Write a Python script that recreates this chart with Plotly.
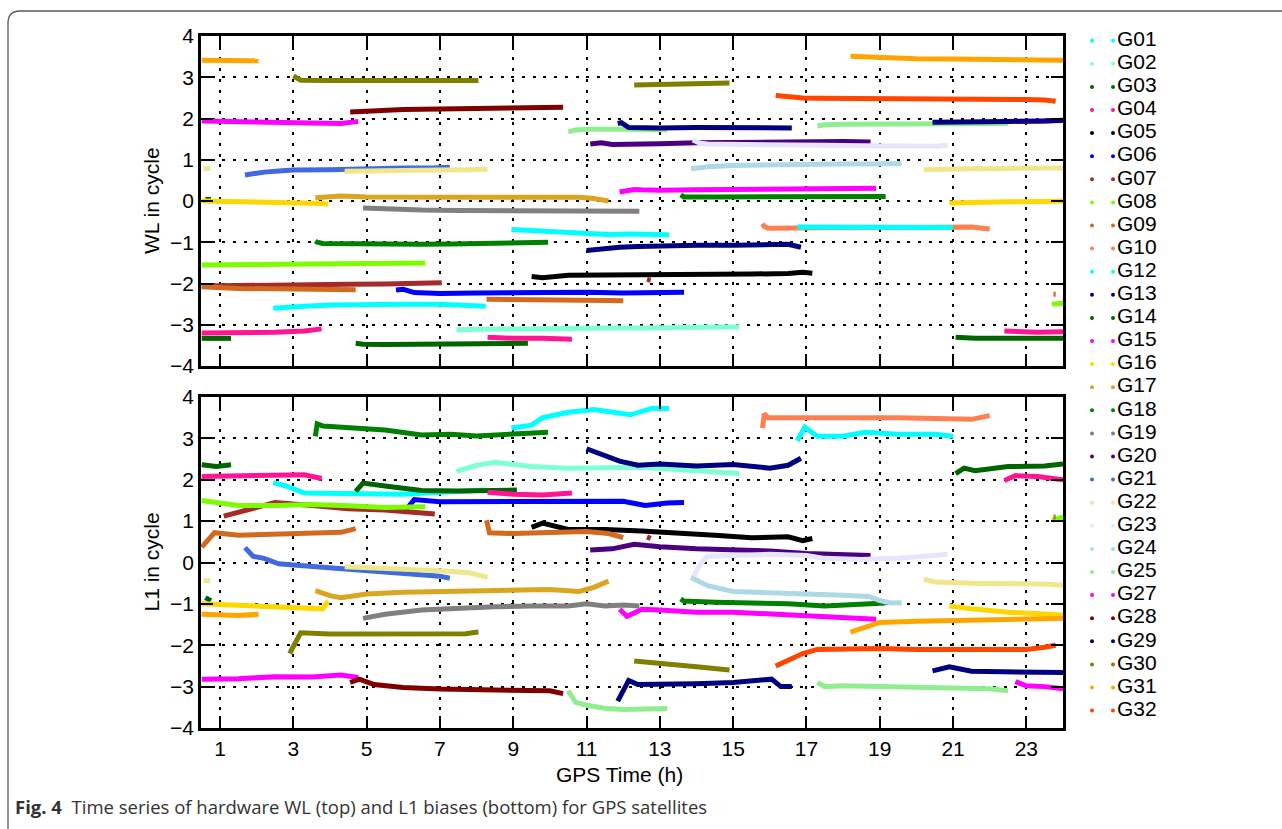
import plotly.graph_objects as go

# ---------------------------------------------------------------------------
# Satellites, colours and per-satellite time series (GPS time in hours).
# Each satellite has one time axis shared by its WL (top) and L1 (bottom)
# bias series; None breaks a track between passes.
# ---------------------------------------------------------------------------
SATS = ["G01", "G02", "G03", "G04", "G05", "G06", "G07", "G08", "G09", "G10",
        "G12", "G13", "G14", "G15", "G16", "G17", "G18", "G19", "G20", "G21",
        "G22", "G23", "G24", "G25", "G27", "G28", "G29", "G30", "G31", "G32"]

COLORS = ["#00FFFF", "#7FFFD4", "#006400", "#FF1493", "#000000", "#0000FF",
          "#A52A2A", "#7CFC00", "#D2691E", "#FF7F50", "#00FFFF", "#000080",
          "#006400", "#FF00FF", "#FFD700", "#DAA520", "#008000", "#808080",
          "#4B0082", "#4169E1", "#F0E68C", "#E6E6FA", "#ADD8E6", "#90EE90",
          "#FF00FF", "#800000", "#000080", "#808000", "#FFA500", "#FF4500"]

X_TICKS = [1, 3, 5, 7, 9, 11, 13, 15, 17, 19, 21, 23]
Y_TICKS = [-4, -3, -2, -1, 0, 1, 2, 3, 4]

G01_T = [2.45, 2.8, 3.3, 4.0, 5.0, 6.0, 7.0, 8.0, 8.25]
G01_WL = [-2.6, -2.57, -2.55, -2.52, -2.5, -2.5, -2.5, -2.52, -2.55]
G01_L1 = [1.93, 1.85, 1.68, 1.68, 1.65, 1.65, 1.7, 1.72, 1.75]

G02_T = [7.45, 8.0, 8.5, 9.5, 10.5, 11.5, 12.5, 13.5, 14.5, 15.16]
G02_WL = [-3.12, -3.1, -3.1, -3.1, -3.08, -3.08, -3.08, -3.08, -3.08, -3.05]
G02_L1 = [2.2, 2.35, 2.42, 2.32, 2.28, 2.3, 2.3, 2.25, 2.2, 2.15]

G03_T = [0.6, 0.75, None, 4.7, 4.9, 5.5, 6.5, 7.5, 8.5, 9.1, 9.4]
G03_WL = [0.04, 0.04, None, -3.45, -3.47, -3.48, -3.48, -3.48, -3.47, -3.46, -3.45]
G03_L1 = [-0.85, -0.93, None, 1.72, 1.92, 1.85, 1.74, 1.73, 1.76, 1.75, None]

G04_T = [0.5, 1.5, 2.5, 3.3, 3.77, None, 8.3, 9.0, 9.8, 10.6, None, 22.4, 22.7, 23.3, 24.0]
G04_WL = [-3.2, -3.2, -3.18, -3.15, -3.1, None, -3.3, -3.33, -3.33, -3.35, None, -3.15, -3.17, -3.18, -3.17]
G04_L1 = [2.08, 2.1, 2.12, 2.12, 2.03, None, 1.7, 1.65, 1.63, 1.68, None, 1.98, 2.1, 2.08, 2.0]

G05_T = [9.5, 9.8, 10.5, 11.5, 12.5, 13.5, 14.5, 15.5, 16.5, 16.9, 17.16]
G05_WL = [-1.83, -1.86, -1.8, -1.8, -1.8, -1.79, -1.78, -1.77, -1.76, -1.73, -1.75]
G05_L1 = [0.85, 0.95, 0.8, 0.8, 0.76, 0.72, 0.66, 0.6, 0.62, 0.53, 0.58]

G06_T = [5.8, 6.0, 6.3, 7.0, 8.0, 9.0, 10.0, 11.0, 12.0, 12.6, 13.2, 13.66]
G06_WL = [-2.16, -2.14, -2.22, -2.24, -2.23, -2.22, -2.21, -2.21, -2.23, -2.22, -2.21, -2.21]
G06_L1 = [None, 1.2, 1.52, 1.47, 1.47, 1.47, 1.47, 1.5, 1.48, 1.38, 1.44, 1.45]

G07_T = [0.5, 1.1, 1.5, 2.5, 3.5, 4.5, 5.5, 6.5, 6.86, 7.05, None, 12.65, 12.75]
G07_WL = [-2.06, -2.05, -2.05, -2.04, -2.03, -2.02, -2.01, -2.0, -1.98, -1.98, None, -1.9, -1.92]
G07_L1 = [None, 1.12, 1.22, 1.45, 1.38, 1.3, 1.27, 1.2, 1.17, None, None, 0.62, 0.58]

G08_T = [0.5, 1.5, 2.5, 3.5, 4.5, 5.5, 6.6, None, 23.7, 24.0]
G08_WL = [-1.55, -1.54, -1.53, -1.52, -1.52, -1.51, -1.5, None, -2.5, -2.48]
G08_L1 = [1.5, 1.38, 1.38, 1.4, 1.37, 1.33, 1.35, None, 1.02, 1.1]

G09_T = [0.5, 0.85, 1.5, 2.5, 3.5, 4.3, 4.7, None, 8.27, 8.35, 9.0, 10.0, 11.0, 11.6, 12.0, None, 23.74, 23.8]
G09_WL = [-2.08, -2.1, -2.12, -2.13, -2.14, -2.14, -2.15, None, -2.38, -2.38, -2.39, -2.39, -2.4, -2.41, -2.42, None, -2.26, -2.26]
G09_L1 = [0.37, 0.72, 0.66, 0.68, 0.7, 0.73, 0.82, None, 1.02, 0.72, 0.7, 0.72, 0.75, 0.7, 0.6, None, 1.1, 1.1]

G10_T = [15.8, 15.85, 15.95, 16.5, 17.5, 18.5, 19.5, 20.5, 21.5, 22.0]
G10_WL = [-0.55, -0.62, -0.66, -0.65, -0.65, -0.65, -0.65, -0.64, -0.63, -0.68]
G10_L1 = [3.25, 3.6, 3.5, 3.5, 3.52, 3.52, 3.5, 3.48, 3.46, 3.55]

G12_T = [8.95, 9.5, 9.8, 10.5, 11.2, 11.6, 12.2, 12.8, 13.25, None, 16.75, 16.95, 17.3, 18.0, 18.6, 19.5, 20.5, 21.0]
G12_WL = [-0.69, -0.72, -0.74, -0.76, -0.79, -0.81, -0.8, -0.8, -0.82, None, -0.63, -0.63, -0.63, -0.63, -0.62, -0.63, -0.63, -0.64]
G12_L1 = [3.25, 3.32, 3.5, 3.63, 3.7, 3.65, 3.57, 3.73, 3.72, None, 2.94, 3.27, 3.05, 3.05, 3.15, 3.1, 3.1, 3.05]

G13_T = [11.0, 11.5, 11.9, 12.4, 13.0, 14.0, 15.0, 16.0, 16.5, 16.85]
G13_WL = [-1.2, -1.15, -1.12, -1.1, -1.08, -1.07, -1.07, -1.06, -1.05, -1.12]
G13_L1 = [2.75, 2.6, 2.45, 2.35, 2.38, 2.33, 2.37, 2.28, 2.35, 2.52]

G14_T = [0.5, 0.9, 1.3, None, 21.07, 21.3, 21.6, 22.5, 23.5, 24.0]
G14_WL = [-3.33, -3.33, -3.33, None, -3.3, -3.32, -3.33, -3.33, -3.33, -3.33]
G14_L1 = [2.36, 2.32, 2.36, None, 2.15, 2.28, 2.22, 2.32, 2.33, 2.38]

G15_T = [0.5, 1.5, 2.5, 3.5, 4.3, 4.77, None, 11.9, 12.1, 12.3, 12.5, 13.0, 14.0, 15.0, 16.0, 17.0, 18.0, 18.9]
G15_WL = [1.94, 1.93, 1.92, 1.91, 1.88, 1.93, None, 0.22, 0.26, 0.28, 0.27, 0.26, 0.27, 0.28, 0.3, 0.3, 0.3, 0.31]
G15_L1 = [-2.82, -2.81, -2.76, -2.77, -2.72, -2.78, None, -1.13, -1.3, -1.22, -1.13, -1.15, -1.2, -1.2, -1.25, -1.28, -1.32, -1.37]

G16_T = [0.5, 1.5, 2.5, 3.5, 3.8, 3.95, None, 20.9, 21.5, 22.5, 23.5, 24.0]
G16_WL = [0.0, -0.01, -0.02, -0.04, -0.06, -0.08, None, -0.05, -0.03, -0.02, -0.01, 0.0]
G16_L1 = [-1.0, -1.03, -1.06, -1.1, -1.12, -0.93, None, -1.05, -1.12, -1.2, -1.24, -1.27]

G17_T = [3.6, 4.0, 4.3, 5.0, 6.0, 7.0, 8.0, 9.0, 10.0, 10.8, 11.2, 11.6]
G17_WL = [0.08, 0.12, 0.12, 0.1, 0.1, 0.1, 0.1, 0.1, 0.1, 0.09, 0.06, 0.0]
G17_L1 = [-0.68, -0.8, -0.85, -0.76, -0.72, -0.7, -0.68, -0.66, -0.65, -0.7, -0.6, -0.45]

G18_T = [3.6, 3.65, 3.8, 4.5, 5.5, 6.5, 7.3, 8.0, 9.0, 9.95, None, 13.57, 13.65, 14.5, 15.5, 16.5, 17.5, 18.5, 19.16]
G18_WL = [-0.97, -1.0, -1.03, -1.04, -1.05, -1.05, -1.04, -1.03, -1.02, -1.0, None, 0.15, 0.1, 0.1, 0.1, 0.1, 0.1, 0.11, 0.11]
G18_L1 = [3.05, 3.35, 3.3, 3.25, 3.2, 3.08, 3.1, 3.06, 3.12, 3.15, None, -0.88, -0.93, -0.96, -0.97, -1.0, -1.05, -1.02, -0.98]

G19_T = [4.9, 5.5, 6.5, 7.5, 8.5, 9.5, 10.5, 11.0, 11.5, 12.0, 12.44]
G19_WL = [-0.17, -0.2, -0.22, -0.23, -0.23, -0.24, -0.24, -0.25, -0.25, -0.25, -0.25]
G19_L1 = [-1.35, -1.25, -1.15, -1.1, -1.07, -1.05, -1.05, -1.0, -1.05, -1.03, -1.05]

G20_T = [11.1, 11.4, 11.7, 12.3, 13.0, 14.0, 15.0, 16.0, 17.0, 18.0, 18.75]
G20_WL = [1.38, 1.41, 1.37, 1.37, 1.39, 1.41, 1.42, 1.44, 1.45, 1.44, 1.43]
G20_L1 = [0.3, 0.3, 0.33, 0.44, 0.38, 0.33, 0.32, 0.28, 0.22, 0.18, 0.17]

G21_T = [1.68, 1.9, 2.2, 2.6, 3.0, 4.0, 5.0, 6.0, 6.8, 7.0, 7.27]
G21_WL = [0.63, 0.67, 0.7, 0.73, 0.75, 0.76, 0.79, 0.8, 0.8, 0.81, 0.82]
G21_L1 = [0.36, 0.15, 0.1, -0.03, -0.06, -0.12, -0.18, -0.24, -0.3, -0.33, -0.38]

G22_T = [0.55, 0.73, None, 4.4, 5.0, 6.0, 7.0, 7.8, 8.3, None, 20.2, 20.5, 21.5, 22.5, 23.5, 24.0]
G22_WL = [0.79, 0.79, None, 0.72, 0.72, 0.74, 0.75, 0.76, 0.77, None, 0.76, 0.77, 0.78, 0.79, 0.8, 0.8]
G22_L1 = [-0.44, -0.44, None, -0.1, -0.12, -0.15, -0.2, -0.25, -0.36, None, -0.4, -0.47, -0.5, -0.5, -0.52, -0.55]

G23_T = [13.9, 14.1, 14.3, 15.0, 16.0, 17.0, 17.5, 18.5, 19.5, 20.5, 20.85]
G23_WL = [1.48, 1.4, 1.38, 1.38, 1.37, 1.36, 1.35, 1.34, 1.33, 1.33, 1.35]
G23_L1 = [-0.36, -0.05, 0.15, 0.18, 0.2, 0.17, 0.1, 0.07, 0.1, 0.17, 0.2]

G24_T = [13.85, 14.3, 15.0, 16.0, 17.0, 18.0, 18.7, 19.0, 19.3, 19.6]
G24_WL = [0.78, 0.83, 0.86, 0.88, 0.89, 0.9, 0.9, 0.91, 0.91, 0.91]
G24_L1 = [-0.36, -0.56, -0.7, -0.72, -0.76, -0.79, -0.82, -0.92, -0.98, -0.97]

G25_T = [10.5, 10.7, 11.0, 11.5, 12.0, 12.5, 13.2, None, 17.3, 17.5, 18.0, 19.0, 20.0, 21.0, 22.0, 22.5]
G25_WL = [1.68, 1.72, 1.74, 1.75, 1.74, 1.73, 1.73, None, 1.82, 1.85, 1.86, 1.87, 1.87, 1.88, 1.88, 1.88]
G25_L1 = [-3.1, -3.38, -3.45, -3.52, -3.55, -3.53, -3.53, None, -2.9, -3.0, -2.98, -3.0, -3.02, -3.02, -3.05, -3.1]

G27_T = [22.7, 23.0, 23.5, 24.0]
G27_WL = [1.93, 1.94, 1.93, 1.95]
G27_L1 = [-2.88, -2.98, -3.0, -3.05]

G28_T = [4.55, 4.8, 5.2, 6.0, 7.0, 8.0, 9.0, 10.0, 10.36]
G28_WL = [2.16, 2.17, 2.19, 2.22, 2.23, 2.24, 2.25, 2.26, 2.27]
G28_L1 = [-2.9, -2.82, -2.95, -3.02, -3.06, -3.07, -3.07, -3.1, -3.17]

G29_T = [11.85, 11.95, 12.15, 12.4, 13.0, 14.0, 15.0, 15.8, 16.05, 16.3, 16.6, None, 20.44, 20.9, 21.5, 22.5, 23.5, 24.0]
G29_WL = [1.88, 1.9, 1.78, 1.77, 1.77, 1.78, 1.78, 1.77, 1.76, 1.77, 1.77, None, 1.91, 1.92, 1.93, 1.93, 1.94, 1.96]
G29_L1 = [-3.35, -3.2, -2.85, -2.95, -2.95, -2.93, -2.9, -2.86, -2.82, -3.0, -3.0, None, -2.62, -2.52, -2.63, -2.63, -2.65, -2.66]

G30_T = [2.9, 3.0, 3.2, 4.0, 5.0, 6.0, 7.0, 7.7, 8.05, None, 12.3, 13.0, 14.0, 14.9]
G30_WL = [None, 3.03, 2.93, 2.92, 2.92, 2.93, 2.93, 2.94, 2.92, None, 2.81, 2.83, 2.85, 2.86]
G30_L1 = [-2.2, -2.05, -1.7, -1.73, -1.72, -1.73, -1.72, -1.72, -1.68, None, -2.38, -2.45, -2.52, -2.6]

G31_T = [0.5, 1.0, 1.5, 2.05, None, 18.2, 18.5, 19.0, 20.0, 21.0, 22.0, 23.0, 24.0]
G31_WL = [3.41, 3.41, 3.42, 3.4, None, 3.51, 3.5, 3.46, 3.45, 3.44, 3.43, 3.42, 3.41]
G31_L1 = [-1.25, -1.27, -1.28, -1.25, None, -1.68, -1.6, -1.45, -1.42, -1.4, -1.38, -1.37, -1.35]

G32_T = [16.16, 16.5, 16.9, 17.3, 18.0, 19.0, 20.0, 21.0, 22.0, 23.0, 23.5, 23.8]
G32_WL = [2.56, 2.53, 2.5, 2.49, 2.49, 2.49, 2.48, 2.48, 2.47, 2.46, 2.45, 2.42]
G32_L1 = [-2.5, -2.35, -2.2, -2.1, -2.08, -2.08, -2.1, -2.1, -2.12, -2.1, -2.05, -2.0]

TIMES = [G01_T, G02_T, G03_T, G04_T, G05_T, G06_T, G07_T, G08_T, G09_T, G10_T,
         G12_T, G13_T, G14_T, G15_T, G16_T, G17_T, G18_T, G19_T, G20_T, G21_T,
         G22_T, G23_T, G24_T, G25_T, G27_T, G28_T, G29_T, G30_T, G31_T, G32_T]
WL_VALUES = [G01_WL, G02_WL, G03_WL, G04_WL, G05_WL, G06_WL, G07_WL, G08_WL, G09_WL, G10_WL,
             G12_WL, G13_WL, G14_WL, G15_WL, G16_WL, G17_WL, G18_WL, G19_WL, G20_WL, G21_WL,
             G22_WL, G23_WL, G24_WL, G25_WL, G27_WL, G28_WL, G29_WL, G30_WL, G31_WL, G32_WL]
L1_VALUES = [G01_L1, G02_L1, G03_L1, G04_L1, G05_L1, G06_L1, G07_L1, G08_L1, G09_L1, G10_L1,
             G12_L1, G13_L1, G14_L1, G15_L1, G16_L1, G17_L1, G18_L1, G19_L1, G20_L1, G21_L1,
             G22_L1, G23_L1, G24_L1, G25_L1, G27_L1, G28_L1, G29_L1, G30_L1, G31_L1, G32_L1]

# ---------------------------------------------------------------------------
# Page geometry (pixels) and styling
# ---------------------------------------------------------------------------
W, H = 1282, 829
PLOT_L, PLOT_R = 201, 1063
TOP_PANEL = (36, 366)
BOT_PANEL = (397, 728)
FONT = "Arial"
LINE_W = 5


def xdom(a, b):
    return [a / W, b / W]


def ydom(top, bottom):
    return [1 - bottom / H, 1 - top / H]


fig = go.Figure()

for name, color, t, wl, l1 in zip(SATS, COLORS, TIMES, WL_VALUES, L1_VALUES):
    fig.add_trace(go.Scatter(x=t, y=wl, mode="lines", name=name,
                             line=dict(color=color, width=LINE_W),
                             xaxis="x", yaxis="y", showlegend=False,
                             connectgaps=False, hoverinfo="skip"))
    fig.add_trace(go.Scatter(x=t, y=l1, mode="lines", name=name,
                             line=dict(color=color, width=LINE_W),
                             xaxis="x2", yaxis="y2", showlegend=False,
                             connectgaps=False, hoverinfo="skip"))

# Legend column drawn on a pixel-space overlay axis: two dots and a label per satellite
LEG_Y0, LEG_STEP = 40.7, 23.1
leg_y = [LEG_Y0 + i * LEG_STEP for i in range(len(SATS))]
dot_x, dot_y, dot_c = [], [], []
for y, c in zip(leg_y, COLORS):
    dot_x += [1092, 1113]
    dot_y += [y, y]
    dot_c += [c, c]
fig.add_trace(go.Scatter(x=dot_x, y=dot_y, mode="markers",
                         marker=dict(color=dot_c, size=4, line=dict(width=0)),
                         xaxis="x3", yaxis="y3", showlegend=False, hoverinfo="skip"))
fig.add_trace(go.Scatter(x=[1117] * len(SATS), y=leg_y, mode="text", text=SATS,
                         textposition="middle right",
                         textfont=dict(family=FONT, size=21, color="black"),
                         xaxis="x3", yaxis="y3", showlegend=False, hoverinfo="skip"))

axis_common = dict(
    showline=True, linecolor="black", linewidth=2.5, mirror="ticks",
    ticks="inside", ticklen=12, tickwidth=2, tickcolor="black",
    showgrid=True, gridcolor="black", gridwidth=2, griddash="3px,7.7px",
    zeroline=False, automargin=False,
    tickfont=dict(family=FONT, size=21, color="black"),
)

fig.update_layout(
    width=W, height=H, autosize=False,
    margin=dict(l=0, r=0, t=0, b=0),
    paper_bgcolor="white", plot_bgcolor="rgba(0,0,0,0)",
    template="none",
    font=dict(family=FONT, color="black"),
    xaxis=dict(domain=xdom(PLOT_L, PLOT_R), range=[0.48, 24], tickvals=X_TICKS,
               showticklabels=False, anchor="y", **axis_common),
    yaxis=dict(domain=ydom(*TOP_PANEL), range=[-4, 4], tickvals=Y_TICKS,
               anchor="x", **axis_common),
    xaxis2=dict(domain=xdom(PLOT_L, PLOT_R), range=[0.48, 24], tickvals=X_TICKS,
                anchor="y2", matches="x", **axis_common),
    yaxis2=dict(domain=ydom(*BOT_PANEL), range=[-4, 4], tickvals=Y_TICKS,
                anchor="x2", **axis_common),
    xaxis3=dict(domain=[0, 1], range=[0, W], visible=False, fixedrange=True, anchor="y3"),
    yaxis3=dict(domain=[0, 1], range=[H, 0], visible=False, fixedrange=True, anchor="x3"),
    showlegend=False,
)

label_font = dict(family=FONT, size=21, color="black")
fig.add_annotation(x=151, y=(TOP_PANEL[0] + TOP_PANEL[1]) / 2, xref="x3", yref="y3",
                   text="WL in cycle", textangle=-90, showarrow=False, font=label_font)
fig.add_annotation(x=151, y=(BOT_PANEL[0] + BOT_PANEL[1]) / 2, xref="x3", yref="y3",
                   text="L1 in cycle", textangle=-90, showarrow=False, font=label_font)
fig.add_annotation(x=619, y=774, xref="x3", yref="y3", text="GPS Time (h)",
                   showarrow=False, font=label_font)

# Figure caption and rounded frame
fig.add_annotation(x=13, y=806, xref="x3", yref="y3", xanchor="left",
                   text="<b>Fig. 4</b>  Time series of hardware WL (top) and L1 biases (bottom) for GPS satellites",
                   showarrow=False, font=dict(family="Open Sans", size=18.5, color="#333333"))
fig.add_shape(type="path", xref="x3", yref="y3",
              path="M 1300,11 L 20,11 Q 8,11 8,23 L 8,850",
              line=dict(color="#5a5a5a", width=1.3))

fig.write_html("out.html")
